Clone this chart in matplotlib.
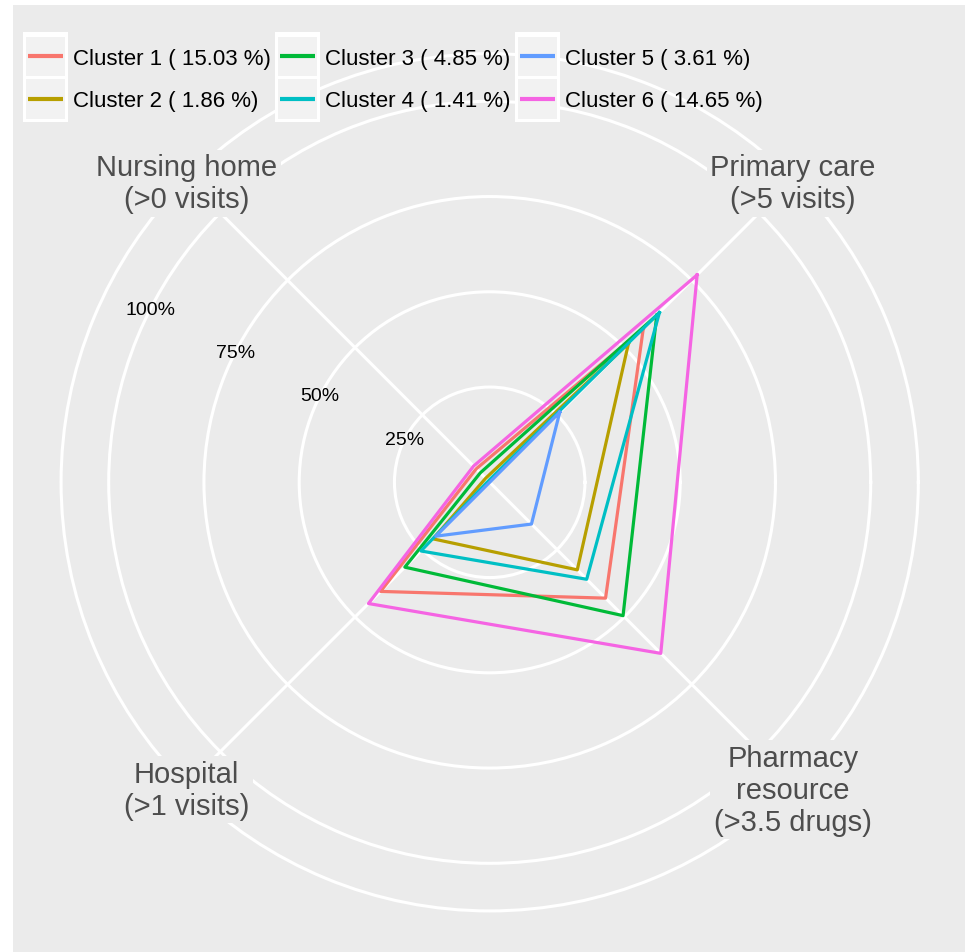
import numpy as np
import matplotlib
matplotlib.use("Agg")
import matplotlib.pyplot as plt
from matplotlib.patches import Rectangle
from matplotlib.lines import Line2D

plt.rcParams["font.family"] = ["Liberation Sans", "DejaVu Sans"]

# radar axes, going clockwise from the upper right
axis_labels = [
    "Primary care\n(>5 visits)",
    "Pharmacy\nresource\n(>3.5 drugs)",
    "Hospital\n(>1 visits)",
    "Nursing home\n(>0 visits)",
]
axis_angles_deg = [45, 315, 225, 135]

cluster_names = ["Cluster 1", "Cluster 2", "Cluster 3", "Cluster 4", "Cluster 5", "Cluster 6"]
cluster_shares = ["15.03", "1.86", "4.85", "1.41", "3.61", "14.65"]
cluster_colors = ["#F8766D", "#B79F00", "#00BA38", "#00BFC4", "#619CFF", "#F564E3"]

# share of each cluster above the threshold (%), one list per axis
primary_care = [57, 51.5, 62, 63, 26, 77]
pharmacy = [43, 32.5, 49.5, 36, 15.5, 63.5]
hospital = [40.5, 21, 31.5, 25.5, 20, 45]
nursing_home = [5, 1.5, 3.5, 0.5, 0, 6]

radial_ticks = [0.25, 0.5, 0.75, 1.0]
radial_tick_labels = ["25%", "50%", "75%", "100%"]

# figure size in pixels
W, H = 965, 953
DPI = 100
BG = "#EBEBEB"

fig = plt.figure(figsize=(W / DPI, H / DPI), dpi=DPI, facecolor="white")


def fx(px):
    return px / W


def fy(py):
    # py is measured from the top of the image
    return 1 - py / H


def px_rect(left, top, w, h, **kw):
    return Rectangle((fx(left), fy(top + h)), w / W, h / H,
                     transform=fig.transFigure, **kw)


# grey panel background
fig.add_artist(px_rect(13, 6, W - 13, H - 6, facecolor=BG, edgecolor="none", zorder=-10))

# polar axes placed so that 100% = 381 px around the centre
cx, cy = 489.7, 483.3
unit = 381.0
rmax = 1.14
R = unit * rmax
ax = fig.add_axes([fx(cx - R), fy(cy + R), 2 * R / W, 2 * R / H], projection="polar")
ax.set_facecolor("none")
ax.set_ylim(0, rmax)
ax.spines["polar"].set_visible(False)
ax.set_yticks(radial_ticks + [1.125])
ax.set_yticklabels([])
ax.set_xticks(np.deg2rad(axis_angles_deg))
ax.set_xticklabels([])
ax.tick_params(length=0)
ax.grid(True, color="white", linewidth=2.2)

# cluster polygons
values = np.array([primary_care, pharmacy, hospital, nursing_home]) / 100.0
theta = np.deg2rad(axis_angles_deg + axis_angles_deg[:1])
for i, color in enumerate(cluster_colors):
    r = list(values[:, i]) + [values[0, i]]
    ax.plot(theta, r, color=color, linewidth=2.3, zorder=3)

# radial labels
label_angle = np.deg2rad(153)
for r, lab in zip(radial_ticks, radial_tick_labels):
    ax.text(label_angle, r, lab, ha="center", va="center", fontsize=14,
            color="black", zorder=5)

# axis labels on grey boxes that hide the grid behind them
for ang, lab in zip(axis_angles_deg, axis_labels):
    ax.annotate(lab, xy=(np.deg2rad(ang), 1.125), xytext=(0, -3),
                textcoords="offset points", ha="center", va="center", fontsize=21,
                color="#4D4D4D", linespacing=1.18, zorder=10,
                bbox=dict(boxstyle="square,pad=0.12", facecolor=BG, edgecolor="none"))

# legend: 3 columns x 2 rows, keys on light grey boxes
key_cols_px = [23, 275, 515]
row_step = 42.5
for i, (name, share, color) in enumerate(zip(cluster_names, cluster_shares, cluster_colors)):
    col, row = divmod(i, 2)
    x0 = key_cols_px[col]
    if row == 0:
        fig.add_artist(px_rect(x0, 33, 45, 90, facecolor="white", edgecolor="none", zorder=5))
    fig.add_artist(px_rect(x0 + 3, 37.5 + row * row_step, 38.5, 39.5,
                           facecolor="#F2F2F2", edgecolor="none", zorder=6))
    yline = 57 + row * row_step
    fig.add_artist(Line2D([fx(x0 + 5), fx(x0 + 40)], [fy(yline), fy(yline)],
                          transform=fig.transFigure, color=color, linewidth=3,
                          solid_capstyle="butt", zorder=7))
    fig.text(fx(x0 + 50), fy(yline + 2), f"{name} ( {share} %)", ha="left", va="center",
             fontsize=16, color="black", zorder=7)

fig.savefig("out.png", dpi=DPI, facecolor=fig.get_facecolor())
